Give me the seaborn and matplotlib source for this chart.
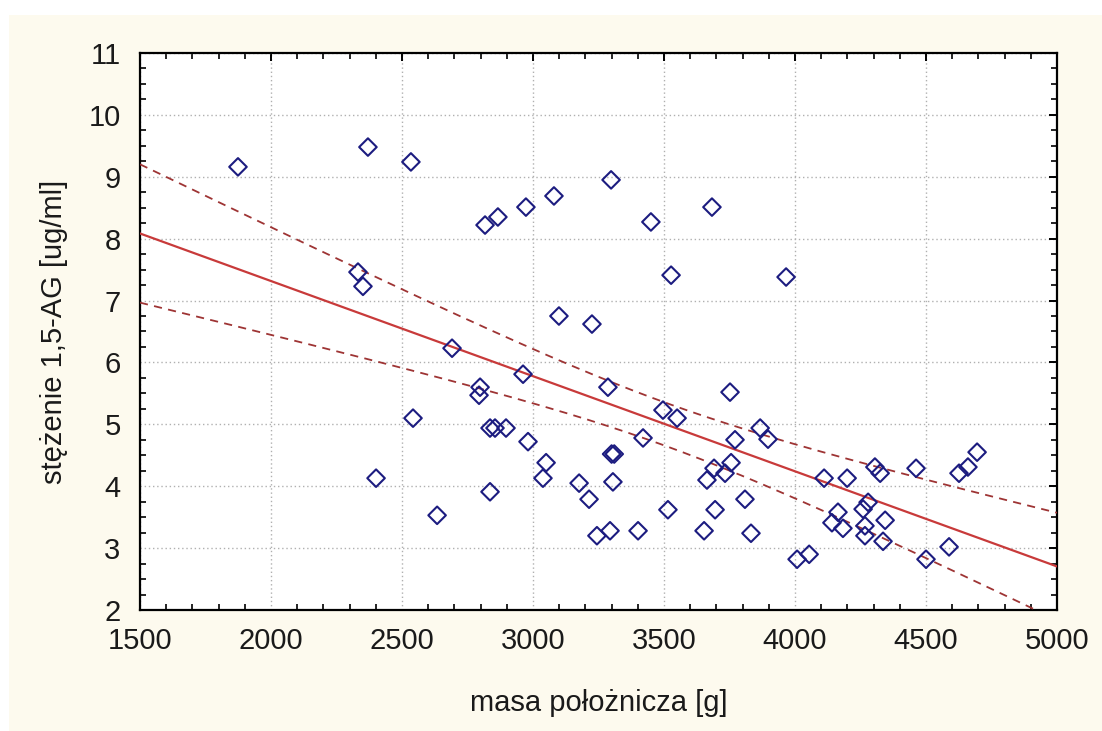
import numpy as np
import pandas as pd
import matplotlib
matplotlib.use("Agg")
import matplotlib.pyplot as plt
from matplotlib.patches import Rectangle
from matplotlib.ticker import MultipleLocator
import seaborn as sns

# --- data ---
masa = [1874, 2370, 2534, 2817, 2866, 2973, 3080, 2332, 2351, 3099, 3225, 3298,
        2401, 2542, 2634, 2691, 2798, 2794, 2836, 2855, 2897, 2962, 2981, 3050,
        3038, 2836, 3176, 3214, 3244, 3286, 3300, 3310, 3305, 3294, 3450, 3683,
        3527, 3966, 3752, 3496, 3550, 3420, 3515, 3401, 3867, 3897, 3771, 3691,
        3664, 3733, 3756, 3695, 3653, 3809, 3832, 4008, 4054, 4111, 4199, 4164,
        4141, 4183, 4260, 4279, 4267, 4267, 4344, 4336, 4305, 4325, 4462, 4588,
        4500, 4626, 4660, 4695]
stezenie = [9.16, 9.48, 9.24, 8.22, 8.35, 8.51, 8.69, 7.46, 7.23, 6.75, 6.62, 8.95,
            4.13, 5.10, 3.53, 6.23, 5.60, 5.47, 4.94, 4.94, 4.94, 5.81, 4.72, 4.38,
            4.13, 3.91, 4.05, 3.79, 3.20, 5.60, 4.52, 4.52, 4.07, 3.28, 8.27, 8.51,
            7.41, 7.38, 5.52, 5.23, 5.10, 4.78, 3.62, 3.28, 4.94, 4.76, 4.75, 4.29,
            4.10, 4.21, 4.38, 3.62, 3.28, 3.79, 3.24, 2.82, 2.90, 4.13, 4.13, 3.58,
            3.41, 3.32, 3.63, 3.74, 3.36, 3.20, 3.45, 3.11, 4.31, 4.21, 4.29, 3.02,
            2.82, 4.21, 4.31, 4.55]
x_ticks = [1500, 2000, 2500, 3000, 3500, 4000, 4500, 5000]
y_ticks = [2, 3, 4, 5, 6, 7, 8, 9, 10, 11]
x_label = "masa położnicza [g]"
y_label = "stężenie 1,5-AG [ug/ml]"

df = pd.DataFrame({"masa": masa, "stezenie": stezenie})

# --- linear regression with 95% confidence bands ---
x = np.asarray(masa, float)
y = np.asarray(stezenie, float)
n = len(x)
b, a = np.polyfit(x, y, 1)
resid = y - (a + b * x)
s = np.sqrt(np.sum(resid ** 2) / (n - 2))
sxx = np.sum((x - x.mean()) ** 2)
t = 1.9925  # t(0.975, n-2) for n≈76
xs = np.linspace(x_ticks[0], x_ticks[-1], 300)
ys = a + b * xs
half = t * s * np.sqrt(1.0 / n + (xs - x.mean()) ** 2 / sxx)
fit = pd.DataFrame({"x": xs, "fit": ys, "lo": ys - half, "hi": ys + half})

sns.set_theme(style="white")
plt.rcParams["font.family"] = ["Liberation Sans", "DejaVu Sans"]

W, H = 1102, 731
fig = plt.figure(figsize=(W / 100, H / 100), dpi=100)
fig.patch.set_facecolor("white")
fig.patches.append(Rectangle((9 / W, 0), 1 - 9 / W, 1 - 15 / H, transform=fig.transFigure,
                             facecolor="#FDFAEE", edgecolor="none", zorder=-10))

ax = fig.add_axes([140 / W, 1 - 610 / H, (1057 - 140) / W, (610 - 53) / H])
ax.set_facecolor("white")

line_col = "#C83A3A"
band_col = "#9E3434"
sns.lineplot(data=fit, x="x", y="fit", ax=ax, color=line_col, lw=1.6, zorder=3)
sns.lineplot(data=fit, x="x", y="hi", ax=ax, color=band_col, lw=1.3,
             linestyle=(0, (4.5, 3.5)), zorder=3)
sns.lineplot(data=fit, x="x", y="lo", ax=ax, color=band_col, lw=1.3,
             linestyle=(0, (4.5, 3.5)), zorder=3)

sns.scatterplot(data=df, x="masa", y="stezenie", ax=ax, marker="D", s=80,
                facecolor="none", edgecolor="#1C1C80", linewidth=1.5, zorder=4)

ax.set_xlim(x_ticks[0], x_ticks[-1])
ax.set_ylim(y_ticks[0], y_ticks[-1])
ax.set_xticks(x_ticks)
ax.set_yticks(y_ticks)
ax.xaxis.set_minor_locator(MultipleLocator(100))
ax.yaxis.set_minor_locator(MultipleLocator(0.25))

ax.grid(True, which="major", color="#B0B0B0", linestyle=(0, (1, 2)), linewidth=1.0)
for sp in ax.spines.values():
    sp.set_visible(True)
    sp.set_color("black")
    sp.set_linewidth(1.6)

ax.tick_params(which="major", direction="in", length=6, width=1.4, top=True, right=True,
               labelsize=21, colors="black", labelcolor="#1a1a1a")
ax.tick_params(axis="x", which="major", pad=12)
ax.tick_params(axis="y", which="major", pad=14)
ax.tick_params(which="minor", direction="in", length=4, width=1.2, top=True, right=True,
               bottom=True, left=True, colors="black")

ax.set_xlabel(x_label, fontsize=21, color="#1a1a1a")
ax.set_ylabel(y_label, fontsize=21, color="#1a1a1a")
ax.xaxis.set_label_coords(0.5, -(703 - 610) / (610 - 53))
ax.xaxis.label.set_va("center")
ax.yaxis.set_label_coords(-(140 - 54) / (1057 - 140), 0.5)
ax.yaxis.label.set_va("center")

fig.savefig("out.png", dpi=100, facecolor=fig.get_facecolor())
